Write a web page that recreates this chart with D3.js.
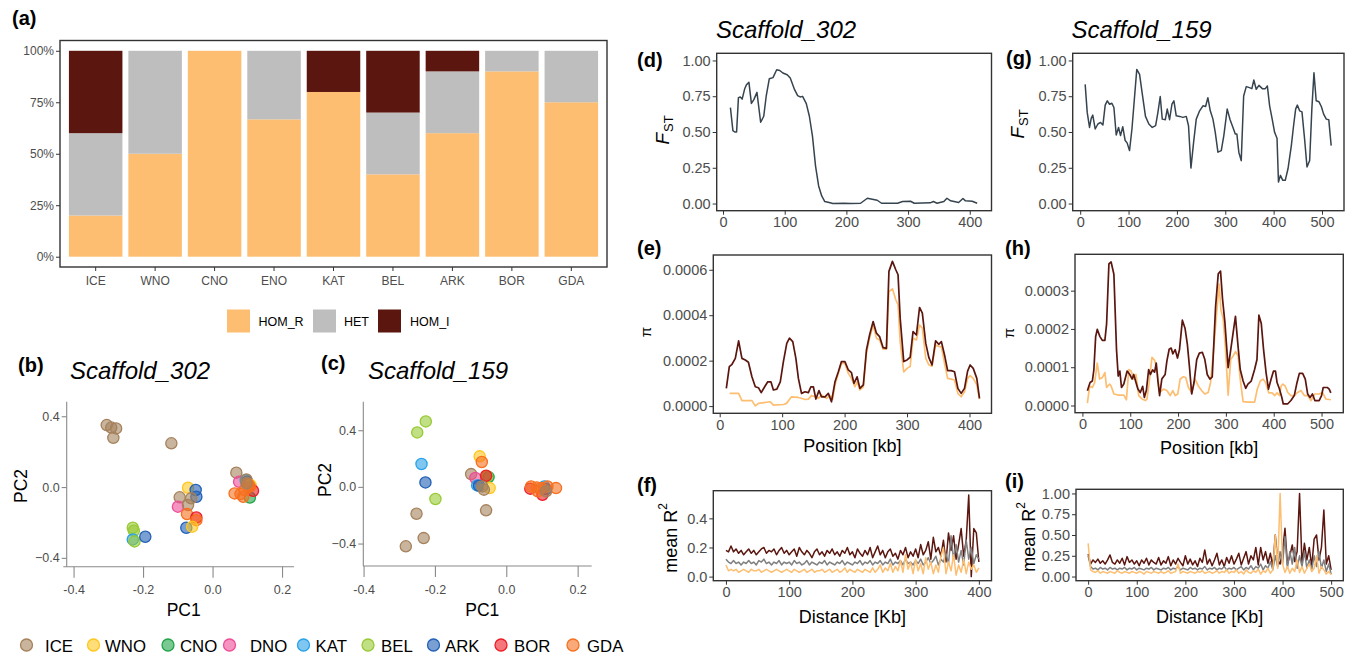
<!DOCTYPE html>
<html><head><meta charset="utf-8">
<script src="https://cdn.jsdelivr.net/npm/d3@7"></script>
<style>
body{margin:0;background:#fff}
svg{display:block}
text{font-family:"Liberation Sans",Arial,Helvetica,sans-serif}
</style>
</head><body>
<svg id="fig" width="1357" height="657"></svg>
<script>
// ---------------- DATA ----------------
// (a) genotype frequencies
const genoCats = ["ICE","WNO","CNO","ENO","KAT","BEL","ARK","BOR","GDA"];
const genoKeys = ["HOM_R","HET","HOM_I"];
const homR = [0.20,0.50,1.00,0.667,0.80,0.40,0.60,0.90,0.75];
const het  = [0.40,0.50,0.00,0.333,0.00,0.30,0.30,0.10,0.25];
const homI = [0.40,0.00,0.00,0.000,0.20,0.30,0.10,0.00,0.00];
const pctTickVals = [0,0.25,0.5,0.75,1];
const pctTickLabels = ["0%","25%","50%","75%","100%"];

// (b,c) PCA
const pops = ["ICE","WNO","CNO","DNO","KAT","BEL","ARK","BOR","GDA"];
const popColors = ["#A5825C","#FFC61E","#22A34A","#EE4D98","#2AA2E8","#98CA34","#2160B6","#EE1C25","#F7701F"];
const pcaB = [ // [pop, PC1, PC2]
 ["ICE",-0.306,0.353],["ICE",-0.293,0.339],["ICE",-0.279,0.334],["ICE",-0.287,0.281],["ICE",-0.120,0.250],
 ["BEL",-0.231,-0.227],["BEL",-0.228,-0.244],["KAT",-0.231,-0.293],["BEL",-0.226,-0.304],["ARK",-0.195,-0.278],
 ["WNO",-0.072,-0.001],["ARK",-0.050,-0.014],["ARK",-0.048,-0.052],["ICE",-0.096,-0.055],["ICE",-0.063,-0.061],
 ["DNO",-0.101,-0.108],["ICE",-0.072,-0.099],["GDA",-0.075,-0.150],["BOR",-0.048,-0.169],["GDA",-0.048,-0.184],
 ["ARK",-0.077,-0.227],["WNO",-0.060,-0.221],
 ["ICE",0.067,0.084],["DNO",0.075,0.033],["KAT",0.094,0.042],["ARK",0.098,0.033],["ICE",0.096,0.046],
 ["WNO",0.108,0.014],["CNO",0.106,-0.056],["BOR",0.115,-0.018],["GDA",0.062,-0.033],["GDA",0.079,-0.037],
 ["GDA",0.091,-0.014],["GDA",0.106,0.005],["GDA",0.101,0.020],["GDA",0.087,-0.052],["ICE",0.096,0.024]
];
const pcaC = [
 ["BEL",-0.227,0.466],["BEL",-0.251,0.388],["KAT",-0.239,0.165],["ARK",-0.228,0.035],["BEL",-0.200,-0.082],
 ["ICE",-0.253,-0.186],["ICE",-0.233,-0.358],["ICE",-0.283,-0.416],
 ["WNO",-0.076,0.219],["GDA",-0.070,0.179],["ICE",-0.100,0.094],["DNO",-0.088,0.066],["KAT",-0.083,0.014],
 ["ARK",-0.078,0.012],["CNO",-0.051,0.073],["BEL",-0.056,0.078],["BOR",-0.058,0.082],["WNO",-0.048,-0.005],
 ["ICE",-0.069,0.007],["ICE",-0.064,-0.016],["ICE",-0.058,-0.162],
 ["KAT",0.105,0.007],["ARK",0.110,-0.012],["BOR",0.066,-0.009],["GDA",0.068,0.007],["GDA",0.084,0.000],
 ["BOR",0.100,-0.052],["GDA",0.096,-0.005],["GDA",0.114,0.007],["GDA",0.138,-0.005],["GDA",0.087,-0.028],
 ["ICE",0.110,-0.028]
];
const pcTickVals = [-0.4,-0.2,0,0.2];
const pcXTickLabels = ["-0.4","-0.2","0.0","0.2"];
const pcYTickVals = [-0.4,0,0.4];
const pcYTickLabels = ["\u22120.4","0.0","0.4"];

// (d) FST Scaffold_302
const fstD_pos = [12,16,19,22,25,28,31,35,38,42,46,50,55,61,66,70,75,81,87,92,97,104,109,116,121,125,129,135,140,145,150,155,160,165,172,178,196,207,223,234,242,250,257,283,291,304,310,336,341,347,358,363,369,382,389,393,404,412];
const fstD_val = [0.67,0.51,0.50,0.50,0.74,0.745,0.73,0.80,0.83,0.847,0.70,0.726,0.777,0.568,0.61,0.75,0.872,0.88,0.935,0.93,0.912,0.90,0.877,0.796,0.754,0.745,0.749,0.698,0.61,0.471,0.262,0.123,0.053,0.014,0.007,0.0,0.002,0.0,0.002,0.037,0.03,0.023,0.002,0.002,0.014,0.016,0.002,0.005,0.014,0.002,0.014,0.037,0.019,0.007,0.035,0.019,0.016,0.002];

// (e) pi Scaffold_302 (values in units of 1e-4)
const PI_UNIT = 1e-4;
const piE_all_pos = [10.6,15.4,19.7,25,30.3,35.6,41,46,51.6,57,62,66.5,72,77,82,86,91.5,97,102,107.4,111.7,117,122,126,131,136.7,142,146,150,154,159,163,168.6,174,179,184.6,190,195,200.5,206,211,215,220,224.5,230,235,240,245.7,251,256,261.7,267,271,276.6,282,285.6,289,294.7,300,305,309.6,315,320,324.5,330,335,340,345.7,351,355,360.6,365,370.7,376,381.4,386.7,392,397,401,406,411.7,416];
const piE_all_val = [0.78,1.74,1.84,2.1,2.87,2.1,2.03,1.93,1.29,0.85,0.81,0.59,0.85,1.07,1.07,0.71,0.75,1.07,1.96,2.76,2.99,2.84,2.1,1.22,0.56,0.63,0.59,0.85,0.85,0.31,0.68,0.41,0.41,0.56,0.19,1.07,1.51,1.96,1.96,1.59,1.47,1.0,1.29,0.78,0.93,2.47,3.13,3.72,3.21,3.06,2.57,2.54,5.93,6.37,6.0,5.78,3.87,1.96,2.03,2.15,3.28,3.13,4.34,4.09,2.76,2.13,1.81,2.87,2.72,2.84,2.18,1.56,1.56,1.51,0.78,0.56,0.78,1.54,1.81,1.66,1.22,0.34];
const piE_homR_pos = [16,30.3,35.6,51.6,57,62,81,86,102,107,115,126,137,142,147,152.7,158,163,171,176.6,181,184.6,190,195,200.5,206,211,216.5,220,224.5,230,235,240,245.7,251,256,261.7,267,271,276.6,282,285.6,289,294.7,300,305,309.6,315,320,324.5,330,335,340,345.7,351,355,360.6,365,370.7,376,381.4,386.7,392,397,401,406,411.7,416];
const piE_homR_val = [0.56,0.56,0.24,0.24,0.01,0.12,0.19,0.04,0.07,0.12,0.41,0.38,0.29,0.31,0.46,0.41,0.34,0.49,0.34,0.46,0.31,0.93,1.44,1.88,1.88,1.44,1.22,0.85,1.07,0.71,0.85,2.32,2.99,3.57,2.99,2.91,2.51,2.51,5.04,5.16,4.68,4.46,2.84,1.51,1.66,1.74,2.99,2.91,3.57,3.43,2.1,1.81,1.76,2.69,2.62,2.62,1.81,1.22,1.19,1.15,0.56,0.41,0.63,1.22,1.34,1.22,0.93,0.31];

// (g) FST Scaffold_159
const fstG_pos = [10.3,14.5,19.3,22.8,26,31,36.6,42,47,51.7,56,60.7,65.5,69.7,74.5,79.3,83.4,88,93,97,102,107,112,117,122.8,128,135,142,149,156,160.7,165.5,169.7,176,180,184.8,189.7,193.8,198.6,205.5,212.4,219.3,224,229,234.5,240,247,253.8,259.3,264,269,274.5,279.3,284.8,291.7,297,304,310,315.9,320.7,324,328,333,338,343.4,350,355,359,364,369.6,376.6,382.8,387,391.7,397,402,407,410,414,419,424,429.7,436.6,441.4,445.5,449,453.8,458.6,464,469,474.5,479,483.4,488,493.8,498.6,503.4,508.9,514,519];
const fstG_val = [0.833,0.637,0.532,0.595,0.618,0.521,0.556,0.567,0.549,0.688,0.718,0.694,0.701,0.671,0.479,0.532,0.475,0.537,0.44,0.424,0.37,0.521,0.729,0.9375,0.903,0.775,0.609,0.556,0.532,0.544,0.637,0.748,0.59,0.586,0.66,0.586,0.694,0.718,0.613,0.609,0.602,0.609,0.544,0.248,0.428,0.59,0.648,0.683,0.678,0.74,0.648,0.59,0.498,0.359,0.37,0.475,0.66,0.586,0.532,0.486,0.486,0.359,0.30,0.752,0.817,0.81,0.803,0.863,0.799,0.826,0.803,0.803,0.822,0.683,0.59,0.498,0.456,0.15,0.197,0.162,0.162,0.243,0.405,0.549,0.66,0.688,0.648,0.641,0.451,0.255,0.301,0.66,0.914,0.718,0.711,0.678,0.625,0.59,0.586,0.405];

// (h) pi Scaffold_159 (units of 1e-4)
const piH_all_pos = [10.4,16,20.8,24,27.7,31,36.7,41.6,47,50.6,55.4,60,65.8,71.3,74.8,78.3,81.7,86.6,93.5,99,104,107.3,112,116,121,126,129.5,133.7,138.5,142,146.8,151,154.4,158,161.4,166,173,176.6,181.4,185.6,189,194,198.8,203,209,214.7,219.5,223.7,228.5,233.4,239,244.5,250.7,256,261,266.6,271.5,278.4,284,288.8,293,297.8,304.7,309.6,315,320,325.5,330,336,341.4,346,353,360,365,369,374,378.8,384,389,394.6,399.6,403.7,407,412,417,420,429,436,443,448,453.6,460.5,466,471,476,481,486,495,500,503.5,512.5,516,519.4];
const piH_all_val = [0.386,0.6,0.64,0.94,1.8,1.99,1.8,1.7,1.7,2.14,3.7,3.75,3.43,1.46,0.77,0.9,0.47,0.56,0.9,0.81,0.69,0.81,0.6,0.43,0.34,0.5,0.21,0.39,0.94,0.81,0.93,0.87,1.11,0.62,0.26,0.69,0.81,1.16,1.47,1.5,1.35,1.46,1.24,1.46,2.23,2.01,1.59,1.03,0.3,0.6,1.2,1.37,1.39,1.2,0.81,0.69,0.75,2.57,3.44,3.51,2.78,2.19,0.99,1.41,1.89,2.33,1.54,0.94,0.64,0.45,0.56,0.64,0.94,1.2,2.36,2.14,1.46,0.86,0.43,0.69,0.9,0.9,0.6,0.43,0.21,0.04,0.04,0.13,0.26,0.56,0.84,0.84,0.69,0.3,0.21,0.3,0.13,0.13,0.26,0.47,0.47,0.43,0.33];
const piH_homR_pos = [10.4,15.2,20.8,25.6,31,36,41.6,47,50.6,56.8,60,65.8,76,86.6,92,97,101.8,107.3,112,117.7,124.7,131.6,135,140,145.4,151,155.8,161.4,169.7,176.6,183.5,189,194,199.4,204.3,211,216,221.6,228.5,235.5,242.4,249.3,256,263,268,275,280.5,286,289.5,294.3,299.2,304.7,310,315,320,325.5,330,336,346,360,365.7,372,377.4,383,389.6,396.8,401.7,407,412,415.5,419,424,429.4,436,443,450,457,464,471,478,486,495,502,509,519.4];
const piH_homR_val = [0.06,0.51,0.47,0.6,1.11,0.69,0.73,0.86,0.47,0.56,0.51,0.3,0.27,0.27,0.15,0.94,0.9,0.69,0.81,0.26,0.17,0.13,0.17,0.64,1.26,1.18,0.94,0.34,0.43,0.39,0.26,0.39,0.26,0.3,0.69,0.75,0.73,0.47,0.34,0.69,0.51,0.39,0.3,0.34,0.6,1.54,2.4,3.17,2.5,2.27,1.47,0.27,1.2,1.29,1.41,1.3,0.69,0.1,0.09,0.09,0.43,0.64,0.69,0.6,0.33,0.33,0.26,0.33,0.26,0.51,0.56,0.51,0.34,0.26,0.26,0.34,0.39,0.26,0.26,0.13,0.3,0.3,0.34,0.17,0.15];

// (f) LD decay Scaffold_302, distance bins every 4 kb (0..400)
const ldF_dist = d3.range(0, 401, 4);
const ldF_homI = [0.18,0.17,0.21,0.17,0.19,0.16,0.18,0.15,0.17,0.19, 0.16,0.18,0.15,0.17,0.19,0.2,0.16,0.18,0.17,0.19, 0.15,0.18,0.2,0.16,0.18,0.15,0.17,0.19,0.14,0.2, 0.17,0.15,0.18,0.16,0.13,0.17,0.19,0.15,0.17,0.14, 0.18,0.16,0.19,0.15,0.17,0.14,0.18,0.16,0.2,0.15, 0.17,0.13,0.19,0.16,0.14,0.18,0.15,0.2,0.13,0.17, 0.21,0.15,0.18,0.13,0.17,0.19,0.14,0.16,0.12,0.18, 0.15,0.2,0.13,0.17,0.14,0.19,0.13,0.22,0.15,0.18, 0.24,0.12,0.27,0.17,0.2,0.14,0.25,0.1,0.3,0.18, 0.28,0.12,0.22,0.33,0.14,0.25,0.56,0.0,0.33,0.3, 0.1];
const ldF_het  = [0.12,0.1,0.09,0.11,0.09,0.1,0.08,0.1,0.09,0.11, 0.09,0.1,0.08,0.11,0.1,0.12,0.09,0.1,0.08,0.1, 0.09,0.11,0.08,0.1,0.09,0.1,0.08,0.11,0.09,0.1, 0.08,0.09,0.11,0.08,0.1,0.09,0.08,0.1,0.09,0.11, 0.08,0.1,0.09,0.08,0.1,0.09,0.11,0.08,0.1,0.09, 0.08,0.1,0.09,0.11,0.08,0.1,0.09,0.11,0.08,0.1, 0.09,0.11,0.08,0.1,0.09,0.12,0.08,0.1,0.09,0.11, 0.08,0.12,0.09,0.1,0.08,0.11,0.09,0.12,0.08,0.1, 0.13,0.09,0.11,0.14,0.08,0.12,0.1,0.16,0.09,0.28, 0.12,0.22,0.1,0.18,0.08,0.25,0.12,0.2,0.09,0.15, 0.12];
const ldF_homR = [0.08,0.04,0.05,0.04,0.05,0.03,0.04,0.05,0.04,0.03, 0.05,0.04,0.04,0.05,0.03,0.04,0.05,0.04,0.03,0.04, 0.05,0.04,0.03,0.04,0.05,0.04,0.03,0.05,0.04,0.03, 0.04,0.05,0.03,0.04,0.05,0.03,0.04,0.04,0.05,0.03, 0.04,0.05,0.03,0.04,0.05,0.03,0.04,0.06,0.03,0.05, 0.04,0.03,0.05,0.04,0.03,0.05,0.04,0.03,0.06,0.03, 0.05,0.08,0.03,0.06,0.04,0.09,0.03,0.07,0.04,0.11, 0.03,0.15,0.05,0.1,0.02,0.12,0.04,0.09,0.02,0.13, 0.05,0.1,0.02,0.08,0.03,0.14,0.2,0.02,0.1,0.04, 0.15,0.01,0.08,0.03,0.12,0.02,0.1,0.05,0.08,0.03, 0.06];

// (i) LD decay Scaffold_159, distance bins every 5 kb (0..500)
const ldI_dist = d3.range(0, 501, 5);
const ldI_homI = [0.27,0.15,0.2,0.17,0.21,0.16,0.19,0.15,0.2,0.26, 0.17,0.15,0.2,0.16,0.22,0.14,0.24,0.17,0.2,0.15, 0.19,0.13,0.2,0.16,0.22,0.14,0.2,0.17,0.15,0.23, 0.14,0.19,0.16,0.24,0.13,0.2,0.15,0.22,0.17,0.13, 0.25,0.15,0.21,0.14,0.19,0.12,0.22,0.17,0.32,0.15, 0.21,0.13,0.2,0.28,0.14,0.2,0.12,0.23,0.16,0.25, 0.15,0.21,0.28,0.14,0.22,0.3,0.15,0.25,0.2,0.35, 0.14,0.35,0.2,0.3,0.16,0.28,0.12,0.5,0.2,0.15, 0.3,0.58,0.15,0.25,0.38,0.18,0.3,1.0,0.15,0.4, 0.2,0.35,0.12,0.45,0.5,0.2,0.35,0.8,0.15,0.25, 0.08];
const ldI_het  = [0.25,0.12,0.09,0.1,0.08,0.11,0.09,0.1,0.08,0.11, 0.09,0.1,0.08,0.1,0.09,0.11,0.08,0.1,0.09,0.11, 0.08,0.1,0.09,0.08,0.1,0.09,0.11,0.08,0.1,0.09, 0.08,0.1,0.09,0.11,0.08,0.1,0.09,0.12,0.08,0.1, 0.09,0.08,0.11,0.09,0.1,0.08,0.1,0.09,0.12,0.08, 0.1,0.09,0.11,0.08,0.1,0.09,0.12,0.08,0.1,0.09, 0.11,0.08,0.1,0.12,0.08,0.11,0.09,0.13,0.08,0.12, 0.1,0.15,0.08,0.13,0.1,0.18,0.08,0.25,0.12,0.3, 0.15,0.48,0.1,0.3,0.15,0.35,0.1,0.25,0.12,0.3, 0.1,0.2,0.08,0.25,0.12,0.3,0.1,0.2,0.06,0.15, 0.03];
const ldI_homR = [0.4,0.08,0.06,0.05,0.07,0.04,0.06,0.05,0.04,0.06, 0.05,0.04,0.07,0.05,0.04,0.06,0.05,0.04,0.06,0.05, 0.04,0.06,0.05,0.03,0.06,0.05,0.04,0.06,0.05,0.04, 0.06,0.04,0.05,0.07,0.04,0.05,0.06,0.15,0.04,0.06, 0.05,0.04,0.06,0.05,0.04,0.06,0.05,0.07,0.04,0.05, 0.06,0.04,0.05,0.07,0.04,0.06,0.05,0.08,0.04,0.06, 0.05,0.08,0.04,0.06,0.03,0.08,0.05,0.04,0.07,0.05, 0.09,0.03,0.07,0.05,0.1,0.04,0.08,0.5,0.1,1.0, 0.15,0.05,0.12,0.04,0.1,0.06,0.2,0.05,0.12,0.04, 0.1,0.15,0.06,0.1,0.25,0.04,0.12,0.08,0.03,0.06, 0.02];

// ---------------- STYLE / HELPERS ----------------
const COL_HOMR = "#FDBE71", COL_HET = "#BEBEBE", COL_HOMI = "#5B160F";
const COL_FST = "#36444F", COL_LDHET = "#808080";
const TICKTXT = "#4D4D4D", BORDER = "#333333";
const svg = d3.select("#fig");

function label(g, x, y, s, o = {}) {
  const t = g.append("text").attr("x", x).attr("y", y).text(s)
    .attr("font-size", o.size || 12).attr("fill", o.fill || "#000")
    .attr("text-anchor", o.anchor || "start").attr("dominant-baseline", "central");
  if (o.weight) t.attr("font-weight", o.weight);
  if (o.italic) t.attr("font-style", "italic");
  if (o.rotate) t.attr("transform", `rotate(${o.rotate},${x},${y})`);
  return t;
}
function styleAxis(sel, size) {
  sel.select(".domain").remove();
  sel.selectAll(".tick line").attr("stroke", BORDER).attr("stroke-width", 1);
  sel.selectAll(".tick text").attr("font-size", size).attr("fill", TICKTXT)
     .attr("font-family", '"Liberation Sans",Arial,sans-serif');
}

// ---------------- (a) stacked bars ----------------
(function () {
  const g = svg.append("g");
  const box = {x0: 60, x1: 607, y0: 40.5, y1: 267};
  const x = d3.scaleBand().domain(genoCats).range([box.x0, box.x1]).paddingInner(0.1).paddingOuter(0.15);
  const y = d3.scaleLinear().domain([-0.05, 1.05]).range([box.y1, box.y0]);
  const rows = genoCats.map((c, i) => ({cat: c, HOM_R: homR[i], HET: het[i], HOM_I: homI[i]}));
  const stack = d3.stack().keys(genoKeys)(rows);
  const cols = {HOM_R: COL_HOMR, HET: COL_HET, HOM_I: COL_HOMI};
  stack.forEach(s => {
    g.selectAll(null).data(s).join("rect")
      .attr("x", d => x(d.data.cat)).attr("width", x.bandwidth())
      .attr("y", d => y(d[1])).attr("height", d => Math.max(0, y(d[0]) - y(d[1])))
      .attr("fill", cols[s.key]);
  });
  g.append("rect").attr("x", box.x0).attr("y", box.y0).attr("width", box.x1 - box.x0)
    .attr("height", box.y1 - box.y0).attr("fill", "none").attr("stroke", BORDER).attr("stroke-width", 1.4);
  const ay = g.append("g").attr("transform", `translate(${box.x0},0)`)
    .call(d3.axisLeft(y).tickValues(pctTickVals).tickFormat((d, i) => pctTickLabels[i]).tickSize(4).tickPadding(2));
  styleAxis(ay, 12);
  const ax = g.append("g").attr("transform", `translate(0,${box.y1})`)
    .call(d3.axisBottom(x).tickSize(4).tickPadding(5));
  styleAxis(ax, 12);
  label(g, 12, 18, "(a)", {size: 20, weight: "bold"});
  // legend
  const keyX = [227, 313, 378], labX = [258.5, 344, 410];
  genoKeys.forEach((k, i) => {
    g.append("rect").attr("x", keyX[i]).attr("y", 309.5).attr("width", 23).attr("height", 23).attr("fill", cols[k]);
    label(g, labX[i], 321.5, k, {size: 12.5});
  });
})();

// ---------------- (b,c) PCA scatter ----------------
const popColor = d3.scaleOrdinal().domain(pops).range(popColors);
function pcaPanel(cfg) {
  const g = svg.append("g");
  const x = d3.scaleLinear().domain(cfg.xDom).range(cfg.xRange);
  const y = d3.scaleLinear().domain(cfg.yDom).range(cfg.yRange);
  const axCol = "#8A8A8A";
  g.append("line").attr("x1", cfg.yAxisX).attr("x2", cfg.yAxisX).attr("y1", cfg.yRange[1]).attr("y2", cfg.yRange[0])
    .attr("stroke", axCol).attr("stroke-width", 1.1);
  g.append("line").attr("x1", cfg.xRange[0]).attr("x2", cfg.xRange[1]).attr("y1", cfg.yRange[0]).attr("y2", cfg.yRange[0])
    .attr("stroke", axCol).attr("stroke-width", 1.1);
  pcTickVals.forEach((v, i) => {
    g.append("line").attr("x1", x(v)).attr("x2", x(v)).attr("y1", cfg.yRange[0]).attr("y2", cfg.yRange[0] + 11)
      .attr("stroke", axCol).attr("stroke-width", 1.1);
    label(g, x(v), cfg.yRange[0] + 23.5, pcXTickLabels[i], {size: 12.5, fill: TICKTXT, anchor: "middle"});
  });
  pcYTickVals.forEach((v, i) => {
    g.append("line").attr("x1", cfg.yAxisX - 5).attr("x2", cfg.yAxisX).attr("y1", y(v)).attr("y2", y(v))
      .attr("stroke", axCol).attr("stroke-width", 1.1);
    label(g, cfg.yAxisX - 7, y(v), pcYTickLabels[i], {size: 12.5, fill: TICKTXT, anchor: "end"});
  });
  g.selectAll("circle.pt").data(cfg.points).join("circle").attr("class", "pt")
    .attr("cx", d => x(d[1])).attr("cy", d => y(d[2])).attr("r", 5.6)
    .attr("fill", d => popColor(d[0])).attr("fill-opacity", 0.6)
    .attr("stroke", d => popColor(d[0])).attr("stroke-width", 1.3);
  label(g, cfg.panelX, cfg.panelY, cfg.panel, {size: 20, weight: "bold"});
  label(g, cfg.titleX, 370, cfg.title, {size: 24, italic: true});
  label(g, (cfg.xRange[0] + cfg.xRange[1]) / 2 + 5, 610, "PC1", {size: 17.5, anchor: "middle"});
  label(g, cfg.pc2X, cfg.pc2Y, "PC2", {size: 17.5, anchor: "middle", rotate: -90});
}
pcaPanel({xDom: [-0.431, 0.233], xRange: [63.3, 294], yDom: [-0.447, 0.485], yRange: [566.7, 401.7],
  yAxisX: 66.7, points: pcaB, panel: "(b)", panelX: 18, panelY: 365, title: "Scaffold_302", titleX: 70,
  pc2X: 21, pc2Y: 486});
pcaPanel({xDom: [-0.403, 0.238], xRange: [363, 591.7], yDom: [-0.555, 0.605], yRange: [566, 401.7],
  yAxisX: 363.3, points: pcaC, panel: "(c)", panelX: 321, panelY: 363, title: "Scaffold_159", titleX: 368,
  pc2X: 325, pc2Y: 480});

// legend (populations)
(function () {
  const g = svg.append("g");
  const cx = [26.5, 93.5, 168, 229.5, 303.5, 368, 433.5, 501, 573];
  const tx = [45, 105, 180, 250, 315.5, 381, 445, 514, 587];
  pops.forEach((p, i) => {
    g.append("circle").attr("cx", cx[i]).attr("cy", 645).attr("r", 6)
      .attr("fill", popColor(p)).attr("fill-opacity", 0.6).attr("stroke", popColor(p)).attr("stroke-width", 1.3);
    label(g, tx[i], 646, p, {size: 16.8});
  });
})();

// ---------------- line panels (d-i) ----------------
function linePanel(cfg) {
  const g = svg.append("g");
  const b = cfg.box;
  const x = d3.scaleLinear().domain(cfg.xDom).range([b.x0, b.x1]);
  const y = d3.scaleLinear().domain(cfg.yDom).range([b.y1, b.y0]);
  const line = d3.line().x(d => x(d[0])).y(d => y(d[1]));
  cfg.series.forEach(s => {
    const pts = s.pos.map((p, i) => [p, s.val[i] * (s.unit || 1)]);
    g.append("path").attr("d", line(pts)).attr("fill", "none").attr("stroke", s.color)
      .attr("stroke-width", s.width || 1.5).attr("stroke-linejoin", "round");
  });
  g.append("rect").attr("x", b.x0).attr("y", b.y0).attr("width", b.x1 - b.x0).attr("height", b.y1 - b.y0)
    .attr("fill", "none").attr("stroke", BORDER).attr("stroke-width", 1.4);
  const ay = g.append("g").attr("transform", `translate(${b.x0},0)`)
    .call(d3.axisLeft(y).tickValues(cfg.yTicks).tickFormat(d3.format(cfg.yFmt)).tickSize(4).tickPadding(2));
  styleAxis(ay, 14.5);
  const ax = g.append("g").attr("transform", `translate(0,${b.y1})`)
    .call(d3.axisBottom(x).tickValues(cfg.xTicks).tickFormat(d3.format("d")).tickSize(4).tickPadding(2));
  styleAxis(ax, 14.5);
  label(g, cfg.pX, cfg.pY, cfg.panel, {size: 20, weight: "bold"});
  if (cfg.xTitle) label(g, (b.x0 + b.x1) / 2, cfg.xTitleY, cfg.xTitle, {size: 18, anchor: "middle"});
  return g;
}
function fstTitle(g, x, y) {
  const t = g.append("text").attr("transform", `translate(${x},${y}) rotate(-90)`)
    .attr("text-anchor", "middle").attr("font-size", 19);
  t.append("tspan").attr("font-style", "italic").text("F");
  t.append("tspan").attr("font-size", 13).attr("dy", 4).attr("dx", 1).text("ST");
}
function piTitle(g, x, y) {
  g.append("text").attr("transform", `translate(${x},${y}) rotate(-90)`).attr("text-anchor", "middle")
    .attr("dominant-baseline", "central").attr("font-size", 15).text("\u03c0");
}
function r2Title(g, x, y) {
  const t = g.append("text").attr("transform", `translate(${x},${y}) rotate(-90)`)
    .attr("text-anchor", "middle").attr("dominant-baseline", "central").attr("font-size", 18);
  t.append("tspan").text("mean R");
  t.append("tspan").attr("font-size", 12).attr("dy", -8).text("2");
}

// titles
label(svg, 716, 29, "Scaffold_302", {size: 24, italic: true});
label(svg, 1071.5, 29, "Scaffold_159", {size: 24, italic: true});

let gd = linePanel({box: {x0: 716.7, x1: 991.5, y0: 53.3, y1: 210.7}, xDom: [-10.25, 435.25], yDom: [-0.05, 1.05],
  xTicks: [0, 100, 200, 300, 400], yTicks: [0, 0.25, 0.5, 0.75, 1], yFmt: ".2f",
  series: [{pos: fstD_pos, val: fstD_val, color: COL_FST, width: 1.5}], panel: "(d)", pX: 637, pY: 60});
fstTitle(gd, 669, 130);

let ge = linePanel({box: {x0: 713.3, x1: 991.5, y0: 255, y1: 413.3}, xDom: [-10.25, 435.25], yDom: [-0.0000317, 0.000665],
  xTicks: [0, 100, 200, 300, 400], yTicks: [0, 0.0002, 0.0004, 0.0006], yFmt: ".4f",
  series: [{pos: piE_homR_pos, val: piE_homR_val, unit: PI_UNIT, color: COL_HOMR, width: 1.7},
           {pos: piE_all_pos, val: piE_all_val, unit: PI_UNIT, color: COL_HOMI, width: 1.7}],
  panel: "(e)", pX: 637, pY: 248, xTitle: "Position [kb]", xTitleY: 446});
piTitle(ge, 645, 332);

let gf = linePanel({box: {x0: 713.3, x1: 991.5, y0: 490.7, y1: 580.7}, xDom: [-20, 420], yDom: [-0.028, 0.59],
  xTicks: [0, 100, 200, 300, 400], yTicks: [0, 0.2, 0.4], yFmt: ".1f",
  series: [{pos: ldF_dist, val: ldF_homI, color: COL_HOMI, width: 1.5},
           {pos: ldF_dist, val: ldF_het, color: COL_LDHET, width: 1.5},
           {pos: ldF_dist, val: ldF_homR, color: COL_HOMR, width: 1.5}],
  panel: "(f)", pX: 637, pY: 485, xTitle: "Distance [Kb]", xTitleY: 617});
r2Title(gf, 671, 538);

let gg = linePanel({box: {x0: 1072.7, x1: 1344, y0: 53.3, y1: 210.7}, xDom: [-15.5, 545.5], yDom: [-0.05, 1.05],
  xTicks: [0, 100, 200, 300, 400, 500], yTicks: [0, 0.25, 0.5, 0.75, 1], yFmt: ".2f",
  series: [{pos: fstG_pos, val: fstG_val, color: COL_FST, width: 1.5}], panel: "(g)", pX: 1006, pY: 58});
fstTitle(gg, 1024, 124);

let gh = linePanel({box: {x0: 1075, x1: 1343.3, y0: 254.3, y1: 412.7}, xDom: [-15.5, 545.5], yDom: [-0.0000188, 0.000395],
  xTicks: [0, 100, 200, 300, 400, 500], yTicks: [0, 0.0001, 0.0002, 0.0003], yFmt: ".4f",
  series: [{pos: piH_homR_pos, val: piH_homR_val, unit: PI_UNIT, color: COL_HOMR, width: 1.7},
           {pos: piH_all_pos, val: piH_all_val, unit: PI_UNIT, color: COL_HOMI, width: 1.7}],
  panel: "(h)", pX: 1005, pY: 248, xTitle: "Position [kb]", xTitleY: 448});
piTitle(gh, 1008, 333);

let gi = linePanel({box: {x0: 1076, x1: 1343.3, y0: 489.3, y1: 580.7}, xDom: [-25, 525], yDom: [-0.05, 1.05],
  xTicks: [0, 100, 200, 300, 400, 500], yTicks: [0, 0.25, 0.5, 0.75, 1], yFmt: ".2f",
  series: [{pos: ldI_dist, val: ldI_homI, color: COL_HOMI, width: 1.5},
           {pos: ldI_dist, val: ldI_het, color: COL_LDHET, width: 1.5},
           {pos: ldI_dist, val: ldI_homR, color: COL_HOMR, width: 1.5}],
  panel: "(i)", pX: 1005, pY: 481, xTitle: "Distance [Kb]", xTitleY: 617});
r2Title(gi, 1029, 537);
</script>
</body></html>
